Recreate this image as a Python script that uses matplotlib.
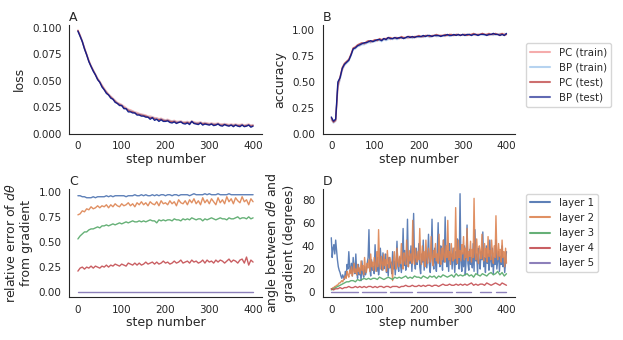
import numpy as np
import matplotlib
matplotlib.use("Agg")
import matplotlib.pyplot as plt
import seaborn as sns

nan = np.nan

# training steps (one value every 5 steps, and a finer grid for the noisy angles)
steps = list(range(0, 401, 5))
steps_fine = list(range(0, 401, 2))

# panel A: loss
loss_pc_train = [.0980, .0935, .0875, .0815, .0755, .0695, .0645, .0605, .0565, .0525,
                 .0495, .0460, .0430, .0400, .0375, .0355, .0335, .0315, .0295, .0285,
                 .0275, .0260, .0245, .0230, .0225, .0215, .0205, .0200, .0190, .0185,
                 .0180, .0175, .0165, .0165, .0160, .0150, .0150, .0140, .0145, .0135,
                 .0130, .0135, .0125, .0120, .0125, .0115, .0115, .0120, .0110, .0110,
                 .0115, .0105, .0120, .0110, .0105, .0105, .0110, .0100, .0105, .0100,
                 .0095, .0100, .0095, .0095, .0100, .0090, .0090, .0095, .0090, .0085,
                 .0090, .0085, .0090, .0085, .0085, .0090, .0080, .0085, .0090, .0080, .0085]
loss_bp_train = [.0970, .0930, .0880, .0810, .0750, .0690, .0640, .0600, .0560, .0520,
                 .0490, .0455, .0420, .0395, .0370, .0350, .0330, .0310, .0290, .0280,
                 .0270, .0250, .0240, .0225, .0215, .0210, .0200, .0190, .0185, .0180,
                 .0175, .0165, .0160, .0155, .0155, .0145, .0140, .0135, .0140, .0130,
                 .0125, .0130, .0120, .0115, .0120, .0110, .0110, .0115, .0105, .0105,
                 .0110, .0100, .0115, .0105, .0100, .0100, .0105, .0095, .0100, .0095,
                 .0090, .0095, .0090, .0090, .0095, .0085, .0085, .0090, .0085, .0080,
                 .0085, .0080, .0085, .0080, .0080, .0085, .0075, .0080, .0085, .0075, .0080]
loss_pc_test = [.0975, .0925, .0870, .0805, .0745, .0685, .0635, .0595, .0555, .0515,
                .0485, .0450, .0415, .0390, .0365, .0345, .0325, .0305, .0285, .0275,
                .0265, .0245, .0235, .0220, .0210, .0205, .0195, .0185, .0180, .0175,
                .0170, .0165, .0155, .0150, .0150, .0140, .0135, .0130, .0135, .0125,
                .0120, .0125, .0115, .0110, .0115, .0105, .0105, .0110, .0100, .0100,
                .0105, .0095, .0110, .0100, .0095, .0095, .0100, .0090, .0095, .0090,
                .0085, .0090, .0085, .0085, .0090, .0080, .0080, .0085, .0080, .0075,
                .0080, .0075, .0080, .0075, .0075, .0080, .0070, .0075, .0080, .0070, .0075]
loss_bp_test = [.0970, .0920, .0870, .0800, .0745, .0680, .0635, .0590, .0555, .0510,
                .0485, .0440, .0415, .0380, .0365, .0335, .0325, .0295, .0285, .0265,
                .0265, .0235, .0235, .0205, .0205, .0195, .0195, .0175, .0175, .0165,
                .0165, .0155, .0155, .0135, .0150, .0125, .0135, .0115, .0130, .0115,
                .0115, .0120, .0105, .0100, .0110, .0095, .0105, .0110, .0095, .0090,
                .0100, .0085, .0115, .0095, .0090, .0085, .0100, .0080, .0090, .0085,
                .0080, .0090, .0075, .0080, .0090, .0075, .0070, .0085, .0075, .0070,
                .0080, .0065, .0080, .0070, .0065, .0080, .0065, .0070, .0080, .0060, .0070]

# panel B: accuracy
acc_pc_train = [.13, .11, .12, .44, .53, .61, .66, .69, .71, .76,
                .82, .83, .85, .85, .87, .87, .88, .89, .88, .89,
                .90, .90, .91, .90, .91, .91, .92, .91, .92, .92,
                .92, .93, .92, .93, .93, .92, .93, .94, .93, .93,
                .94, .93, .94, .94, .95, .94, .94, .95, .94, .95,
                .95, .95, .94, .95, .96, .95, .95, .96, .95, .96,
                .95, .96, .96, .95, .96, .96, .95, .96, .96, .97,
                .96, .96, .95, .96, .97, .96, .96, .95, .96, .97, .96]
acc_bp_train = [.14, .10, .12, .45, .52, .62, .66, .68, .70, .75,
                .81, .82, .84, .85, .86, .86, .87, .88, .88, .89,
                .89, .90, .90, .89, .91, .90, .91, .92, .91, .92,
                .91, .92, .93, .92, .92, .93, .93, .92, .93, .94,
                .93, .94, .93, .94, .94, .93, .94, .95, .94, .94,
                .95, .94, .95, .95, .94, .95, .95, .96, .95, .95,
                .96, .95, .95, .96, .95, .96, .96, .95, .96, .96,
                .95, .96, .96, .96, .95, .96, .96, .97, .96, .96, .96]
acc_pc_test = [.15, .11, .13, .47, .55, .64, .68, .70, .72, .77,
               .83, .84, .86, .87, .88, .87, .89, .90, .89, .90,
               .91, .90, .92, .91, .92, .92, .93, .93, .92, .93,
               .93, .92, .94, .93, .93, .94, .94, .93, .94, .94,
               .95, .94, .94, .95, .95, .94, .95, .95, .96, .95,
               .95, .95, .96, .95, .96, .96, .95, .96, .96, .95,
               .96, .96, .95, .96, .96, .97, .96, .96, .96, .97,
               .96, .96, .97, .96, .96, .97, .96, .96, .97, .95, .96]
acc_bp_test = [.16, .12, .14, .50, .54, .63, .67, .69, .71, .76,
               .82, .83, .85, .86, .87, .88, .88, .89, .90, .89,
               .90, .91, .91, .90, .92, .91, .93, .92, .92, .93,
               .92, .93, .93, .92, .93, .94, .93, .94, .93, .94,
               .94, .94, .95, .94, .95, .95, .94, .95, .95, .95,
               .94, .95, .95, .96, .95, .95, .96, .95, .96, .95,
               .96, .95, .96, .96, .95, .96, .96, .95, .96, .96,
               .96, .95, .96, .96, .97, .96, .96, .95, .96, .95, .97]

# panel C: relative error of d-theta per layer
relerr_l1 = [.96, .96, .95, .95, .94, .94, .94, .95, .94, .95,
             .95, .95, .95, .96, .95, .96, .95, .96, .96, .96,
             .96, .96, .95, .96, .96, .96, .97, .96, .96, .97,
             .96, .97, .96, .96, .97, .96, .97, .96, .97, .97,
             .96, .97, .97, .96, .97, .97, .96, .97, .97, .97,
             .97, .96, .97, .98, .97, .97, .97, .97, .98, .97,
             .98, .97, .97, .97, .98, .97, .97, .97, .97, .98,
             .97, .97, .97, .97, .97, .97, .97, .97, .97, .97, .97]
relerr_l2 = [.77, .78, .81, .80, .83, .82, .85, .83, .84, .86,
             .84, .86, .85, .87, .84, .87, .85, .88, .86, .85,
             .88, .86, .87, .89, .86, .88, .85, .89, .87, .90,
             .87, .89, .86, .90, .88, .87, .90, .86, .91, .88,
             .89, .87, .91, .88, .90, .86, .92, .89, .88, .91,
             .87, .92, .89, .93, .88, .91, .87, .94, .89, .92,
             .88, .93, .90, .87, .94, .89, .92, .88, .95, .90,
             .93, .88, .94, .91, .89, .95, .90, .92, .87, .93, .90]
relerr_l3 = [.53, .56, .58, .60, .60, .62, .63, .63, .64, .65,
             .64, .66, .66, .67, .66, .67, .68, .67, .68, .69,
             .68, .69, .70, .69, .70, .71, .70, .70, .71, .70,
             .71, .70, .71, .72, .71, .71, .69, .72, .71, .72,
             .71, .72, .72, .71, .73, .72, .72, .71, .73, .72,
             .73, .72, .74, .73, .72, .73, .73, .71, .73, .72,
             .73, .74, .73, .72, .73, .74, .73, .73, .72, .74,
             .73, .73, .74, .75, .73, .74, .74, .73, .75, .73, .74]
relerr_l4 = [.21, .24, .25, .23, .25, .24, .26, .24, .26, .25,
             .24, .26, .25, .27, .25, .27, .26, .28, .27, .26,
             .28, .27, .26, .29, .28, .27, .29, .27, .29, .27,
             .28, .30, .28, .29, .30, .28, .30, .28, .29, .31,
             .29, .30, .28, .29, .31, .29, .30, .32, .29, .30,
             .31, .29, .32, .30, .31, .29, .30, .32, .29, .32,
             .30, .31, .29, .32, .30, .32, .31, .29, .31, .33,
             .30, .32, .31, .29, .32, .33, .29, .35, .27, .32, .30]
relerr_l5 = [0.0] * 81

# panel D: angle between d-theta and gradient (degrees)
angle_l1 = [47, 30, 38, 41, 33, 45, 36, 28, 22, 19,
            17, 14, 12, 15, 13, 11, 18, 13, 24, 20,
            35, 22, 17, 25, 14, 30, 20, 16, 33, 18,
            12, 24, 15, 20, 10, 27, 16, 13, 22, 15,
            18, 25, 30, 54, 20, 14, 28, 19, 22, 16,
            41, 25, 18, 30, 15, 22, 38, 26, 19, 34,
            20, 28, 33, 17, 24, 14, 30, 21, 26, 16,
            35, 20, 27, 15, 25, 44, 22, 18, 30, 24,
            17, 26, 55, 23, 36, 19, 28, 63, 22, 31,
            25, 40, 18, 35, 68, 27, 20, 38, 24, 30,
            42, 22, 16, 33, 26, 45, 19, 28, 36, 21,
            30, 50, 24, 17, 32, 63, 27, 20, 38, 25,
            18, 34, 60, 28, 22, 40, 31, 19, 45, 26,
            65, 30, 22, 36, 18, 42, 27, 33, 20, 38,
            28, 17, 35, 24, 46, 30, 20, 85, 26, 18,
            34, 22, 40, 15, 29, 58, 25, 19, 37, 24,
            30, 21, 42, 18, 54, 27, 33, 16, 38, 26,
            20, 35, 28, 52, 22, 30, 17, 40, 25, 33,
            19, 45, 27, 22, 38, 16, 30, 24, 45, 20,
            28, 35, 18, 31, 24, 40, 22, 30, 17, 26, 35]
angle_l2 = [3, 3, 4, 4, 5, 5, 6, 6, 7, 8,
            8, 9, 10, 9, 11, 12, 14, 12, 18, 15,
            13, 19, 16, 22, 14, 18, 25, 17, 20, 15,
            24, 18, 21, 16, 27, 19, 23, 15, 30, 20,
            17, 25, 21, 28, 18, 33, 22, 26, 19, 30,
            24, 18, 35, 22, 54, 27, 20, 31, 25, 19,
            33, 23, 28, 18, 36, 25, 21, 30, 26, 22,
            10, 28, 35, 24, 20, 38, 27, 22, 31, 25,
            42, 26, 20, 34, 28, 24, 45, 30, 22, 36,
            27, 33, 25, 62, 29, 24, 38, 30, 26, 35,
            28, 55, 31, 24, 40, 27, 35, 22, 45, 30,
            25, 38, 32, 26, 48, 29, 23, 36, 30, 42,
            27, 33, 25, 50, 30, 24, 38, 28, 45, 31,
            26, 40, 30, 62, 28, 35, 24, 42, 31, 27,
            38, 29, 73, 32, 25, 45, 30, 36, 27, 41,
            33, 48, 28, 38, 30, 55, 27, 35, 31, 44,
            26, 37, 30, 81, 34, 28, 46, 32, 25, 40,
            35, 29, 50, 33, 27, 42, 30, 38, 26, 48,
            31, 36, 28, 45, 33, 25, 40, 30, 66, 34,
            28, 42, 31, 37, 26, 45, 30, 35, 22, 38, 25]
angle_l3 = [2, 3, 4, 5, 6, 7, 8, 9, 9, 10,
            10, 9, 11, 10, 11, 12, 11, 12, 11, 12,
            12, 11, 13, 12, 11, 12, 13, 12, 11, 13,
            12, 13, 12, 13, 14, 12, 13, 12, 14, 13,
            13, 12, 14, 13, 12, 14, 13, 14, 12, 14,
            13, 15, 14, 13, 14, 15, 13, 16, 14, 15,
            14, 15, 16, 14, 15, 13, 16, 15, 14, 16,
            15, 14, 16, 17, 15, 16, 18, 15, 17, 14, 16]
angle_l4 = [3, 2, 3, 3, 4, 3, 4, 4, 5, 4,
            4, 5, 4, 5, 4, 5, 4, 5, 5, 4,
            5, 4, 5, 5, 4, 5, 5, 4, 5, 5,
            5, 4, 5, 5, 6, 5, 5, 6, 5, 5,
            6, 5, 6, 5, 6, 6, 5, 6, 6, 5,
            6, 7, 6, 6, 7, 6, 6, 7, 6, 7,
            6, 7, 6, 7, 8, 6, 7, 6, 7, 7,
            6, 8, 7, 6, 7, 8, 7, 6, 8, 7, 6]
angle_l5 = [0, 0, 0, 0, 0, 0, 0, 0, 0, 0,
            0, 0, 0, nan, 0, 0, 0, 0, 0, 0,
            0, 0, 0, 0, 0, 0, nan, 0, 0, 0,
            0, 0, 0, 0, 0, 0, 0, 0, nan, 0,
            0, 0, 0, 0, 0, 0, 0, 0, 0, 0,
            0, 0, 0, 0, 0, 0, nan, 0, 0, 0,
            0, 0, 0, 0, 0, nan, 0, nan, 0, 0,
            0, 0, 0, 0, nan, 0, 0, 0, 0, 0, 0]

sns.set_style("white")
plt.rcParams["font.family"] = ["DejaVu Sans"]
plt.rcParams["axes.labelsize"] = 9
plt.rcParams["xtick.labelsize"] = 7.5
plt.rcParams["ytick.labelsize"] = 7.5
plt.rcParams["legend.fontsize"] = 7.3
plt.rcParams["axes.titlesize"] = 9

fig, axes = plt.subplots(2, 2, figsize=(6.23, 3.40), dpi=100)
fig.subplots_adjust(left=0.111, right=0.827, bottom=0.126, top=0.926,
                    wspace=0.315, hspace=0.51)
axA, axB = axes[0]
axC, axD = axes[1]

lw = 1.0
style = [("PC (train)", "#f08080", 0.6), ("BP (train)", "#8fbce8", 0.6),
         ("PC (test)", "#b22222", 0.7), ("BP (test)", "#0d1b8a", 0.95)]

for (name, col, a), y in zip(style, [loss_pc_train, loss_bp_train, loss_pc_test, loss_bp_test]):
    axA.plot(steps, y, color=col, alpha=a, lw=lw, label=name)
axA.set_ylabel("loss")
axA.set_title("A", loc="left", pad=3)
axA.set_yticks([0, 0.025, 0.05, 0.075, 0.1])
axA.yaxis.set_major_formatter(matplotlib.ticker.FormatStrFormatter("%.3f"))

for (name, col, a), y in zip(style, [acc_pc_train, acc_bp_train, acc_pc_test, acc_bp_test]):
    axB.plot(steps, y, color=col, alpha=a, lw=lw, label=name)
axB.set_ylim(0, 1.05)
axB.set_ylabel("accuracy")
axB.set_title("B", loc="left", pad=3)
legB = axB.legend(loc="upper left", bbox_to_anchor=(1.03, 0.88), frameon=True)
for h in legB.get_lines():
    h.set_linewidth(1.5)
    h.set_alpha(0.65)

layer_cols = sns.color_palette("deep")[:5]
relerr = [relerr_l1, relerr_l2, relerr_l3, relerr_l4, relerr_l5]
angles = [(steps_fine, angle_l1), (steps_fine, angle_l2), (steps, angle_l3),
          (steps, angle_l4), (steps, angle_l5)]
for i in range(5):
    axC.plot(steps, relerr[i], color=layer_cols[i], lw=lw, alpha=0.9)
    xs, ys = angles[i]
    axD.plot(xs, ys, color=layer_cols[i], lw=lw, alpha=0.9,
             label="layer %d" % (i + 1))
axC.set_ylabel(r"relative error of $d\theta$" + "\nfrom gradient")
axC.set_title("C", loc="left", pad=3)
axD.set_ylabel(r"angle between $d\theta$ and" + "\ngradient (degrees)")
axD.set_title("D", loc="left", pad=3)
legD = axD.legend(loc="upper left", bbox_to_anchor=(1.03, 1.0), frameon=True)
for h in legD.get_lines():
    h.set_linewidth(1.5)

for ax in [axA, axB, axC, axD]:
    ax.set_xlabel("step number", labelpad=1)
    ax.set_xticks([0, 100, 200, 300, 400])
    ax.tick_params(pad=2)
sns.despine()

fig.savefig("out.png", dpi=100)
